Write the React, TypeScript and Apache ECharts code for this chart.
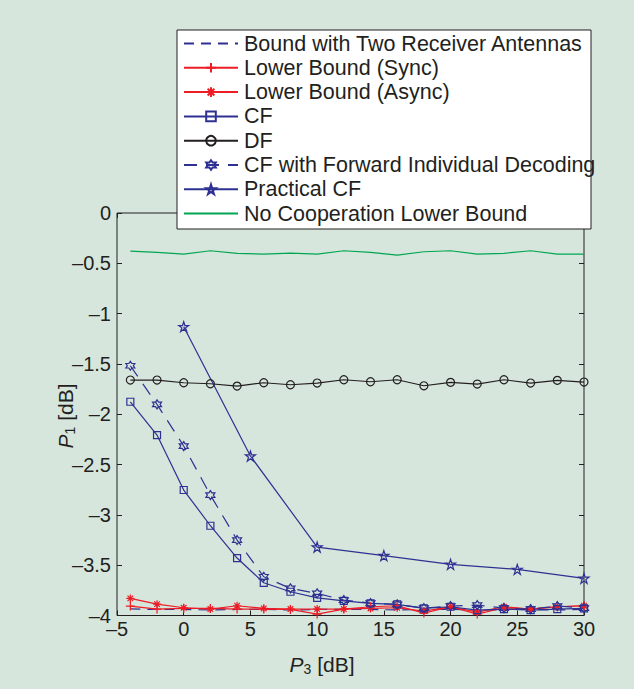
import React, { useEffect, useRef } from 'react';
import * as echarts from 'echarts';

const xEvery2 = [-4, -2, 0, 2, 4, 6, 8, 10, 12, 14, 16, 18, 20, 22, 24, 26, 28, 30];
const xEvery5 = [0, 5, 10, 15, 20, 25, 30];

const boundTwoRx = [-3.935, -3.94, -3.94, -3.945, -3.94, -3.94, -3.945, -3.94, -3.94, -3.94, -3.945, -3.94, -3.94, -3.945, -3.94, -3.94, -3.945, -3.94];
const lowerSync = [-3.906, -3.936, -3.93, -3.93, -3.936, -3.936, -3.94, -3.986, -3.936, -3.913, -3.903, -3.976, -3.913, -3.986, -3.923, -3.936, -3.913, -3.903];
const lowerAsync = [-3.83, -3.887, -3.923, -3.936, -3.903, -3.93, -3.936, -3.936, -3.936, -3.93, -3.923, -3.956, -3.913, -3.966, -3.913, -3.936, -3.913, -3.903];
const cf = [-1.876, -2.207, -2.753, -3.108, -3.429, -3.675, -3.764, -3.824, -3.854, -3.88, -3.89, -3.93, -3.913, -3.946, -3.936, -3.946, -3.936, -3.93];
const df = [-1.66, -1.66, -1.687, -1.697, -1.72, -1.687, -1.707, -1.69, -1.657, -1.677, -1.657, -1.717, -1.683, -1.7, -1.657, -1.69, -1.663, -1.68];
const cfFid = [-1.518, -1.902, -2.316, -2.803, -3.25, -3.615, -3.731, -3.78, -3.847, -3.877, -3.89, -3.926, -3.906, -3.897, -3.926, -3.936, -3.906, -3.926];
const practicalCf = [-1.13, -2.415, -3.32, -3.405, -3.492, -3.542, -3.631];
const noCoop = [-0.378, -0.392, -0.408, -0.375, -0.401, -0.408, -0.398, -0.408, -0.375, -0.392, -0.418, -0.385, -0.375, -0.408, -0.401, -0.375, -0.408, -0.408];

const seriesNames = [
  'Bound with Two Receiver Antennas',
  'Lower Bound (Sync)',
  'Lower Bound (Async)',
  'CF',
  'DF',
  'CF with Forward Individual Decoding',
  'Practical CF',
  'No Cooperation Lower Bound',
];

const BLUE = '#2e3192';
const RED = '#ee1c25';
const GREEN = '#00a651';
const BLACK = '#231f20';
const BG = '#d6e6dc';
const FONT = 'Liberation Sans, Arial, Helvetica, sans-serif';

const PLUS = 'path://M5,0 L5,10 M0,5 L10,5';
const ASTER = 'path://M5,0 L5,10 M0,5 L10,5 M1.5,1.5 L8.5,8.5 M8.5,1.5 L1.5,8.5';
const PENTA = 'path://M10,0 L12.245,6.91 L19.51,6.91 L13.63,11.18 L15.88,18.09 L10,13.82 L4.12,18.09 L6.37,11.18 L0.49,6.91 L7.755,6.91 Z';
const HEXA = 'path://M10,0 L12.887,5 L18.66,5 L15.77,10 L18.66,15 L12.887,15 L10,20 L7.113,15 L1.34,15 L4.23,10 L1.34,5 L7.113,5 Z';

const pairs = (xs: number[], ys: number[]) => xs.map((x, i) => [x, ys[i]]);

const fmt = (v: number) => (v === 0 ? '0' : String(v).replace('-', '\u2013'));

export default function App() {
  const ref = useRef<HTMLDivElement>(null);
  useEffect(() => {
    if (!ref.current) return;
    const chart = echarts.init(ref.current, undefined, { renderer: 'svg' });
    const lineBase = (name: string, data: number[][], color: string, extra: any) => ({
      name,
      type: 'line',
      data,
      xAxisIndex: 0,
      yAxisIndex: 0,
      lineStyle: { color, width: 1.2 },
      itemStyle: { color: 'transparent', borderColor: color, borderWidth: 1.2 },
      emphasis: { disabled: true },
      ...extra,
    });
    const axisTick = { show: true, inside: true, length: 5, lineStyle: { color: BLACK, width: 1 } };
    const axisLine = { show: false, onZero: false };
    const option: any = {
      animation: false,
      backgroundColor: BG,
      textStyle: { fontFamily: FONT },
      grid: {
        left: 117,
        right: 50,
        top: 213,
        bottom: 73.5,
        show: true,
        borderColor: BLACK,
        borderWidth: 1,
        backgroundColor: 'transparent',
      },
      xAxis: [
        {
          type: 'value',
          min: -5,
          max: 30,
          interval: 5,
          position: 'bottom',
          axisLine,
          axisTick,
          splitLine: { show: false },
          axisLabel: { formatter: fmt, fontSize: 20, color: BLACK, margin: 3, fontFamily: FONT },
        },
        {
          type: 'value',
          min: -5,
          max: 30,
          interval: 5,
          position: 'top',
          axisLine,
          axisTick,
          splitLine: { show: false },
          axisLabel: { show: false },
        },
      ],
      yAxis: [
        {
          type: 'value',
          min: -4,
          max: 0,
          interval: 0.5,
          position: 'left',
          axisLine,
          axisTick,
          splitLine: { show: false },
          axisLabel: { formatter: fmt, fontSize: 20, color: BLACK, margin: 6, fontFamily: FONT },
        },
        {
          type: 'value',
          min: -4,
          max: 0,
          interval: 0.5,
          position: 'right',
          axisLine,
          axisTick,
          splitLine: { show: false },
          axisLabel: { show: false },
        },
      ],
      legend: {
        orient: 'vertical',
        left: 183,
        top: 32.5,
        padding: 0,
        itemWidth: 54,
        itemHeight: 12,
        itemGap: 2.3,
        selectedMode: false,
        data: seriesNames,
        textStyle: { fontSize: 21.5, color: BLACK, fontFamily: FONT, padding: [0, 0, 0, 1] },
        z: 5,
      },
      graphic: [
        {
          type: 'rect',
          z: 3,
          shape: { x: 177, y: 30, width: 414, height: 199 },
          style: { fill: '#ffffff', stroke: BLACK, lineWidth: 1 },
        },
        {
          type: 'text',
          z: 3,
          x: 322,
          y: 664,
          style: {
            text: '{i|P}{s|3}{n| [dB]}',
            align: 'center',
            verticalAlign: 'middle',
            fill: BLACK,
            rich: {
              i: { fontStyle: 'italic', fontSize: 21, fontFamily: FONT, lineHeight: 24, fill: BLACK },
              s: { fontSize: 14, fontFamily: FONT, lineHeight: 14, verticalAlign: 'bottom', fill: BLACK },
              n: { fontSize: 21, fontFamily: FONT, lineHeight: 24, fill: BLACK },
            },
          },
        },
        {
          type: 'text',
          z: 3,
          x: 65,
          y: 416,
          rotation: Math.PI / 2,
          style: {
            text: '{i|P}{s|1}{n| [dB]}',
            align: 'center',
            verticalAlign: 'middle',
            fill: BLACK,
            rich: {
              i: { fontStyle: 'italic', fontSize: 21, fontFamily: FONT, lineHeight: 24, fill: BLACK },
              s: { fontSize: 14, fontFamily: FONT, lineHeight: 14, verticalAlign: 'bottom', fill: BLACK },
              n: { fontSize: 21, fontFamily: FONT, lineHeight: 24, fill: BLACK },
            },
          },
        },
      ],
      series: [
        lineBase(seriesNames[0], pairs(xEvery2, boundTwoRx), BLUE, {
          symbol: 'none',
          itemStyle: { color: 'transparent', borderColor: 'transparent', borderWidth: 0 },
          lineStyle: { color: BLUE, width: 1.2, type: [10, 7] },
        }),
        lineBase(seriesNames[1], pairs(xEvery2, lowerSync), RED, { symbol: PLUS, symbolSize: 9 }),
        lineBase(seriesNames[2], pairs(xEvery2, lowerAsync), RED, { symbol: ASTER, symbolSize: 8 }),
        lineBase(seriesNames[3], pairs(xEvery2, cf), BLUE, { symbol: 'rect', symbolSize: 7 }),
        lineBase(seriesNames[4], pairs(xEvery2, df), BLACK, { symbol: 'circle', symbolSize: 8 }),
        lineBase(seriesNames[5], pairs(xEvery2, cfFid), BLUE, {
          symbol: HEXA,
          symbolSize: 9,
          lineStyle: { color: BLUE, width: 1.2, type: [13, 9] },
        }),
        lineBase(seriesNames[6], pairs(xEvery5, practicalCf), BLUE, { symbol: PENTA, symbolSize: 10 }),
        lineBase(seriesNames[7], pairs(xEvery2, noCoop), GREEN, {
          symbol: 'none',
          itemStyle: { color: 'transparent', borderColor: 'transparent', borderWidth: 0 },
        }),
      ],
    };
    chart.setOption(option);
    return () => chart.dispose();
  }, []);
  return (
    <div
      ref={ref}
      style={{ position: 'absolute', left: 0, top: 0, width: 634, height: 689, background: BG }}
    />
  );
}
